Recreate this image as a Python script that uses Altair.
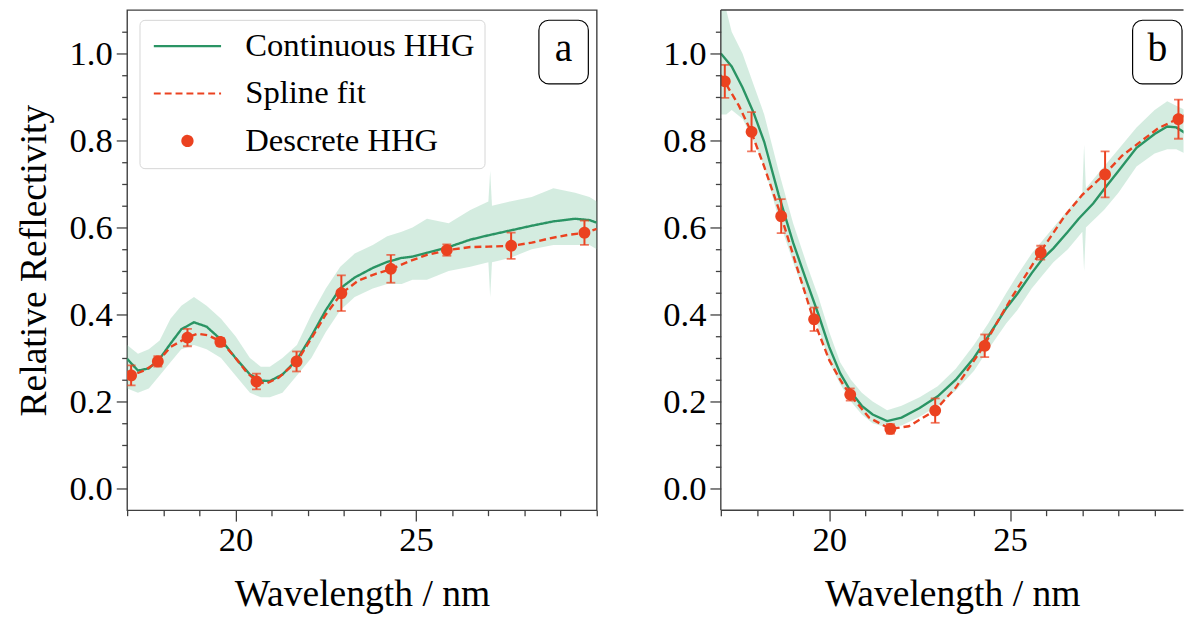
import altair as alt
import pandas as pd

FONT = "Liberation Serif"
GREEN = "#2a9464"
RED = "#eb4220"
BAND = "#8fcdae"
SPINE = "#404040"
SERIES = ["Continuous HHG", "Spline fit", "Descrete HHG"]
LINE_PATH = "M-3,0L3,0"
CIRCLE_PATH = "M0.45,0A0.45,0.45,0,1,1,-0.45,0A0.45,0.45,0,1,1,0.45,0Z"

# ---------- discrete harmonics (both panels) ----------
harm_x = [17.11, 17.85, 18.67, 19.58, 20.58, 21.69, 22.93, 24.30, 25.85, 27.63, 29.66]
a_pts = [0.260, 0.292, 0.347, 0.337, 0.246, 0.292, 0.449, 0.505, 0.548, 0.558, 0.588]
a_err = [0.023, 0.012, 0.020, 0.009, 0.018, 0.023, 0.041, 0.032, 0.013, 0.030, 0.028]
b_pts = [0.936, 0.820, 0.626, 0.389, 0.216, 0.137, 0.179, 0.328, 0.542, 0.722, 0.849]
b_err = [0.038, 0.045, 0.039, 0.027, 0.014, 0.011, 0.028, 0.026, 0.016, 0.053, 0.045]

# ---------- panel a: smooth continuous HHG ----------
a_line_x = [17.0, 17.3, 17.6, 17.9, 18.2, 18.5, 18.85, 19.2, 19.6, 20.0, 20.4, 20.7, 20.95,
            21.3, 21.7, 22.1, 22.5, 22.9, 23.3, 23.8, 24.2, 24.6, 24.9, 25.3, 25.9, 26.5,
            27.0, 27.6, 28.2, 28.8, 29.4, 29.8, 30.0]
a_line_y = [0.298, 0.271, 0.276, 0.298, 0.333, 0.366, 0.382, 0.372, 0.342, 0.300, 0.262, 0.248, 0.247,
            0.262, 0.296, 0.350, 0.410, 0.460, 0.485, 0.507, 0.521, 0.530, 0.533, 0.542, 0.555, 0.572,
            0.582, 0.593, 0.604, 0.614, 0.620, 0.617, 0.611]
# ---------- panel a: spline fit ----------
a_spl_x = [17.0, 17.13, 17.5, 17.85, 18.2, 18.68, 18.95, 19.25, 19.61, 20.0, 20.3, 20.59, 20.85,
           21.2, 21.7, 22.1, 22.5, 22.94, 23.4, 23.9, 24.33, 24.8, 25.3, 25.88, 26.5, 27.0,
           27.65, 28.2, 28.7, 29.2, 29.7, 30.0]
a_spl_y = [0.256, 0.260, 0.272, 0.292, 0.325, 0.348, 0.356, 0.352, 0.337, 0.300, 0.268, 0.246, 0.241,
           0.255, 0.292, 0.345, 0.400, 0.449, 0.478, 0.494, 0.505, 0.522, 0.537, 0.548, 0.555, 0.556,
           0.558, 0.565, 0.575, 0.583, 0.588, 0.597]
# ---------- panel a: raw-data envelope ----------
a_band_x = [17.0, 17.3, 17.6, 17.9, 18.2, 18.5, 18.85, 19.2, 19.6, 20.0, 20.4, 20.7, 20.95, 21.3,
            21.7, 22.1, 22.5, 22.9, 23.3, 23.8, 24.2, 24.6, 24.9, 25.3, 25.9, 26.5, 27.0, 27.05,
            27.1, 27.6, 28.2, 28.8, 29.4, 29.8, 30.0]
a_band_lo = [0.23, 0.22, 0.23, 0.26, 0.29, 0.32, 0.33, 0.32, 0.30, 0.26, 0.22, 0.21, 0.21, 0.22,
             0.26, 0.30, 0.36, 0.41, 0.44, 0.46, 0.47, 0.47, 0.48, 0.48, 0.50, 0.51, 0.52, 0.44,
             0.52, 0.53, 0.55, 0.56, 0.56, 0.56, 0.55]
a_band_hi = [0.33, 0.31, 0.32, 0.34, 0.39, 0.42, 0.44, 0.42, 0.39, 0.35, 0.30, 0.28, 0.28, 0.30,
             0.33, 0.40, 0.46, 0.51, 0.54, 0.56, 0.58, 0.59, 0.60, 0.62, 0.61, 0.64, 0.66, 0.73,
             0.65, 0.66, 0.67, 0.69, 0.68, 0.67, 0.66]

# ---------- panel b: smooth continuous HHG ----------
b_line_x = [17.0, 17.3, 17.6, 17.9, 18.2, 18.6, 19.0, 19.4, 19.7, 20.0, 20.3, 20.6, 20.9, 21.2,
            21.6, 22.0, 22.5, 23.0, 23.5, 24.0, 24.4, 24.9, 25.2, 25.6, 25.9, 26.2, 26.6, 26.9,
            27.3, 27.6, 28.0, 28.5, 29.0, 29.35, 29.6, 29.85, 30.0]
b_line_y = [1.000, 0.970, 0.922, 0.865, 0.797, 0.675, 0.565, 0.470, 0.400, 0.325, 0.265, 0.222, 0.190,
            0.170, 0.155, 0.163, 0.185, 0.212, 0.250, 0.300, 0.350, 0.415, 0.447, 0.495, 0.528, 0.552,
            0.590, 0.620, 0.655, 0.688, 0.730, 0.783, 0.815, 0.832, 0.830, 0.817, 0.805]
# ---------- panel b: spline fit ----------
b_spl_x = [17.0, 17.1, 17.5, 17.84, 18.2, 18.67, 19.1, 19.56, 20.0, 20.3, 20.57, 21.1, 21.68,
           22.2, 22.92, 23.5, 24.28, 24.7, 25.07, 25.83, 26.5, 27.0, 27.61, 28.1, 28.62, 29.1,
           29.62, 30.0]
b_spl_y = [0.950, 0.936, 0.880, 0.820, 0.740, 0.626, 0.510, 0.389, 0.295, 0.250, 0.216, 0.163, 0.137,
           0.143, 0.179, 0.232, 0.328, 0.390, 0.442, 0.542, 0.625, 0.675, 0.722, 0.765, 0.798, 0.828,
           0.849, 0.865]
# ---------- panel b: raw-data envelope ----------
b_band_x = [17.0, 17.15, 17.3, 17.6, 17.9, 18.2, 18.6, 19.0, 19.4, 19.7, 20.0, 20.3, 20.6, 20.9,
            21.2, 21.6, 22.0, 22.5, 23.0, 23.5, 24.0, 24.4, 24.9, 25.2, 25.6, 25.9, 26.2, 26.6,
            26.9, 27.0, 27.05, 27.1, 27.6, 28.0, 28.5, 29.0, 29.35, 29.6, 29.85, 30.0]
b_band_lo = [0.86, 0.86, 0.87, 0.85, 0.80, 0.74, 0.62, 0.52, 0.43, 0.37, 0.29, 0.24, 0.20, 0.17,
             0.15, 0.14, 0.145, 0.165, 0.19, 0.225, 0.27, 0.32, 0.38, 0.41, 0.46, 0.49, 0.52, 0.55,
             0.58, 0.59, 0.50, 0.60, 0.64, 0.68, 0.74, 0.77, 0.78, 0.78, 0.77, 0.76]
b_band_hi = [1.10, 1.10, 1.05, 1.00, 0.93, 0.86, 0.73, 0.61, 0.51, 0.44, 0.36, 0.29, 0.25, 0.22,
             0.20, 0.18, 0.19, 0.21, 0.235, 0.275, 0.33, 0.38, 0.45, 0.49, 0.54, 0.57, 0.60, 0.64,
             0.67, 0.68, 0.79, 0.69, 0.74, 0.78, 0.83, 0.87, 0.89, 0.88, 0.87, 0.86]

PANEL_W_A = 475
PANEL_W_B = 468
PANEL_H = 506

MAJOR_X = "(datum.value === 20 || datum.value === 25)"
MAJOR_Y = "abs(round(datum.value * 20)) % 4 === 0"


def xenc(field, xmax, ticks, title):
    return alt.X(
        f"{field}:Q",
        scale=alt.Scale(domain=[17, xmax], nice=False, zero=False),
        axis=alt.Axis(
            title=title, values=ticks, grid=False,
            domain=False,
            tickSize={"condition": {"test": MAJOR_X, "value": 11}, "value": 5.5},
            tickColor=SPINE, tickWidth=1.3,
            labelExpr=f"{MAJOR_X} ? datum.label : ''",
            labelFontSize={"condition": {"test": MAJOR_X, "value": 35}, "value": 1},
            labelOverlap=False, labelFlush=False,
            labelFont=FONT, labelColor="black", labelPadding=2,
            titleFont=FONT, titleFontSize=38, titleFontWeight="normal",
            titleColor="black", titlePadding=18,
        ),
    )


def yenc(field, title):
    return alt.Y(
        f"{field}:Q",
        scale=alt.Scale(domain=[-0.05, 1.1], nice=False, zero=False),
        axis=alt.Axis(
            title=title, values=[round(i * 0.05, 2) for i in range(0, 22)], grid=False,
            domain=False,
            tickSize={"condition": {"test": MAJOR_Y, "value": 11}, "value": 5.5},
            tickColor=SPINE, tickWidth=1.3,
            labelExpr=f"{MAJOR_Y} ? format(datum.value, '.1f') : ''",
            labelFontSize={"condition": {"test": MAJOR_Y, "value": 35}, "value": 1},
            labelOverlap=False, labelFlush=False,
            labelFont=FONT, labelColor="black", labelPadding=4,
            titleFont=FONT, titleFontSize=38, titleFontWeight="normal",
            titleColor="black", titlePadding=16,
        ),
    )


legend = alt.Legend(
    title=None, orient="none", legendX=12.5, legendY=10,
    padding=10, fillColor="white", strokeColor="#d6d6d6", cornerRadius=5,
    labelFont=FONT, labelFontSize=33, labelColor="black", labelOffset=42, labelLimit=500,
    rowPadding=14, symbolOffset=22, symbolStrokeWidth=2.2,
    symbolSize=514, symbolOpacity=1,
)

stroke = alt.Stroke("series:N", scale=alt.Scale(domain=SERIES, range=[GREEN, RED, RED]), legend=legend)
fill = alt.Fill("series:N", scale=alt.Scale(domain=SERIES, range=[GREEN, RED, RED]), legend=legend)
dash = alt.StrokeDash("series:N", scale=alt.Scale(domain=SERIES, range=[[1, 0], [7, 4], [1, 0]]),
                      legend=legend)
shape = alt.Shape("series:N", scale=alt.Scale(domain=SERIES, range=[LINE_PATH, LINE_PATH, CIRCLE_PATH]),
                  legend=legend)


def panel(tag, line_x, line_y, spl_x, spl_y, band_x, band_lo, band_hi, pts, err,
          xmax, ticks, ytitle, with_legend):
    line_df = pd.DataFrame({"x": line_x, "y": line_y, "series": SERIES[0]})
    spl_df = pd.DataFrame({"x": spl_x, "y": spl_y, "series": SERIES[1]})
    band_df = pd.DataFrame({"x": band_x, "lo": band_lo, "hi": band_hi})
    pts_df = pd.DataFrame({"x": harm_x, "y": pts, "series": SERIES[2]})
    pts_df["lo"] = pts_df["y"] - pd.Series(err)
    pts_df["hi"] = pts_df["y"] + pd.Series(err)
    tag_df = pd.DataFrame({"label": [tag]})

    X = lambda f: xenc(f, xmax, ticks, "Wavelength / nm")
    Y = lambda f: yenc(f, ytitle)

    line_ch = {"stroke": stroke, "strokeDash": dash} if with_legend else {}
    pt_ch = {"fill": fill, "stroke": stroke, "shape": shape} if with_legend else {}

    band = alt.Chart(band_df).mark_area(color=BAND, opacity=0.38, clip=True).encode(
        x=X("x"), y=Y("lo"), y2="hi")
    green = alt.Chart(line_df).mark_line(strokeWidth=2.4, clip=True, color=GREEN).encode(
        x=X("x"), y=Y("y"), **line_ch)
    red = alt.Chart(spl_df).mark_line(strokeWidth=2.4, strokeDash=[7, 4], clip=True, color=RED).encode(
        x=X("x"), y=Y("y"), **line_ch)
    bars = alt.Chart(pts_df).mark_rule(color=RED, strokeWidth=2, clip=True).encode(
        x=X("x"), y=Y("lo"), y2="hi")
    cap_lo = alt.Chart(pts_df).mark_tick(orient="horizontal", size=9, thickness=1.8, color=RED, clip=True).encode(
        x=X("x"), y=Y("lo"))
    cap_hi = alt.Chart(pts_df).mark_tick(orient="horizontal", size=9, thickness=1.8, color=RED, clip=True).encode(
        x=X("x"), y=Y("hi"))
    dots = alt.Chart(pts_df).mark_point(filled=True, size=700, opacity=1, shape=CIRCLE_PATH,
                                        color=RED, strokeWidth=0, clip=True).encode(
        x=X("x"), y=Y("y"), **pt_ch)
    box = alt.Chart(tag_df).mark_rect(cornerRadius=10, fill="white", stroke="black", strokeWidth=1.2).encode(
        x=alt.value(416.5), x2=alt.value(466.5), y=alt.value(10.4), y2=alt.value(74.7))
    label = alt.Chart(tag_df).mark_text(font=FONT, fontSize=40, align="center", baseline="alphabetic",
                                        color="black").encode(
        x=alt.value(441.5), y=alt.value(51.7), text="label:N")
    return [band, green, red, bars, cap_lo, cap_hi, dots, box, label]


layers_a = panel("a", a_line_x, a_line_y, a_spl_x, a_spl_y, a_band_x, a_band_lo, a_band_hi,
                 a_pts, a_err, 30, list(range(17, 31)), "Relative Reflectivity", True)
panel_a = alt.layer(*layers_a).properties(
    width=PANEL_W_A, height=PANEL_H,
    view=alt.ViewBackground(stroke=SPINE, strokeWidth=1.4),
)

layers_b = panel("b", b_line_x, b_line_y, b_spl_x, b_spl_y, b_band_x, b_band_lo, b_band_hi,
                 b_pts, b_err, 29.8, list(range(17, 30)), None, False)
spine_df = pd.DataFrame({"k": [0]})
top_spine = alt.Chart(spine_df).mark_rule(color=SPINE, strokeWidth=1.4).encode(
    x=alt.value(0), x2=alt.value(PANEL_W_B), y=alt.value(0))
left_spine = alt.Chart(spine_df).mark_rule(color=SPINE, strokeWidth=1.4).encode(
    x=alt.value(0), y=alt.value(0), y2=alt.value(PANEL_H))
bottom_spine = alt.Chart(spine_df).mark_rule(color=SPINE, strokeWidth=1.4).encode(
    x=alt.value(0), x2=alt.value(PANEL_W_B), y=alt.value(PANEL_H))
panel_b = alt.layer(*layers_b, top_spine, left_spine, bottom_spine).properties(
    width=PANEL_W_B, height=PANEL_H,
    view=alt.ViewBackground(stroke="transparent"),
)

chart = alt.hconcat(panel_a, panel_b, spacing=63.5).resolve_scale(
    x="independent", y="independent", color="independent"
).properties(
    padding={"left": 6.5, "top": -3.5, "right": 0, "bottom": 0},
    background="white",
)

chart.save("out.html", embed_options={"renderer": "svg", "actions": False})
